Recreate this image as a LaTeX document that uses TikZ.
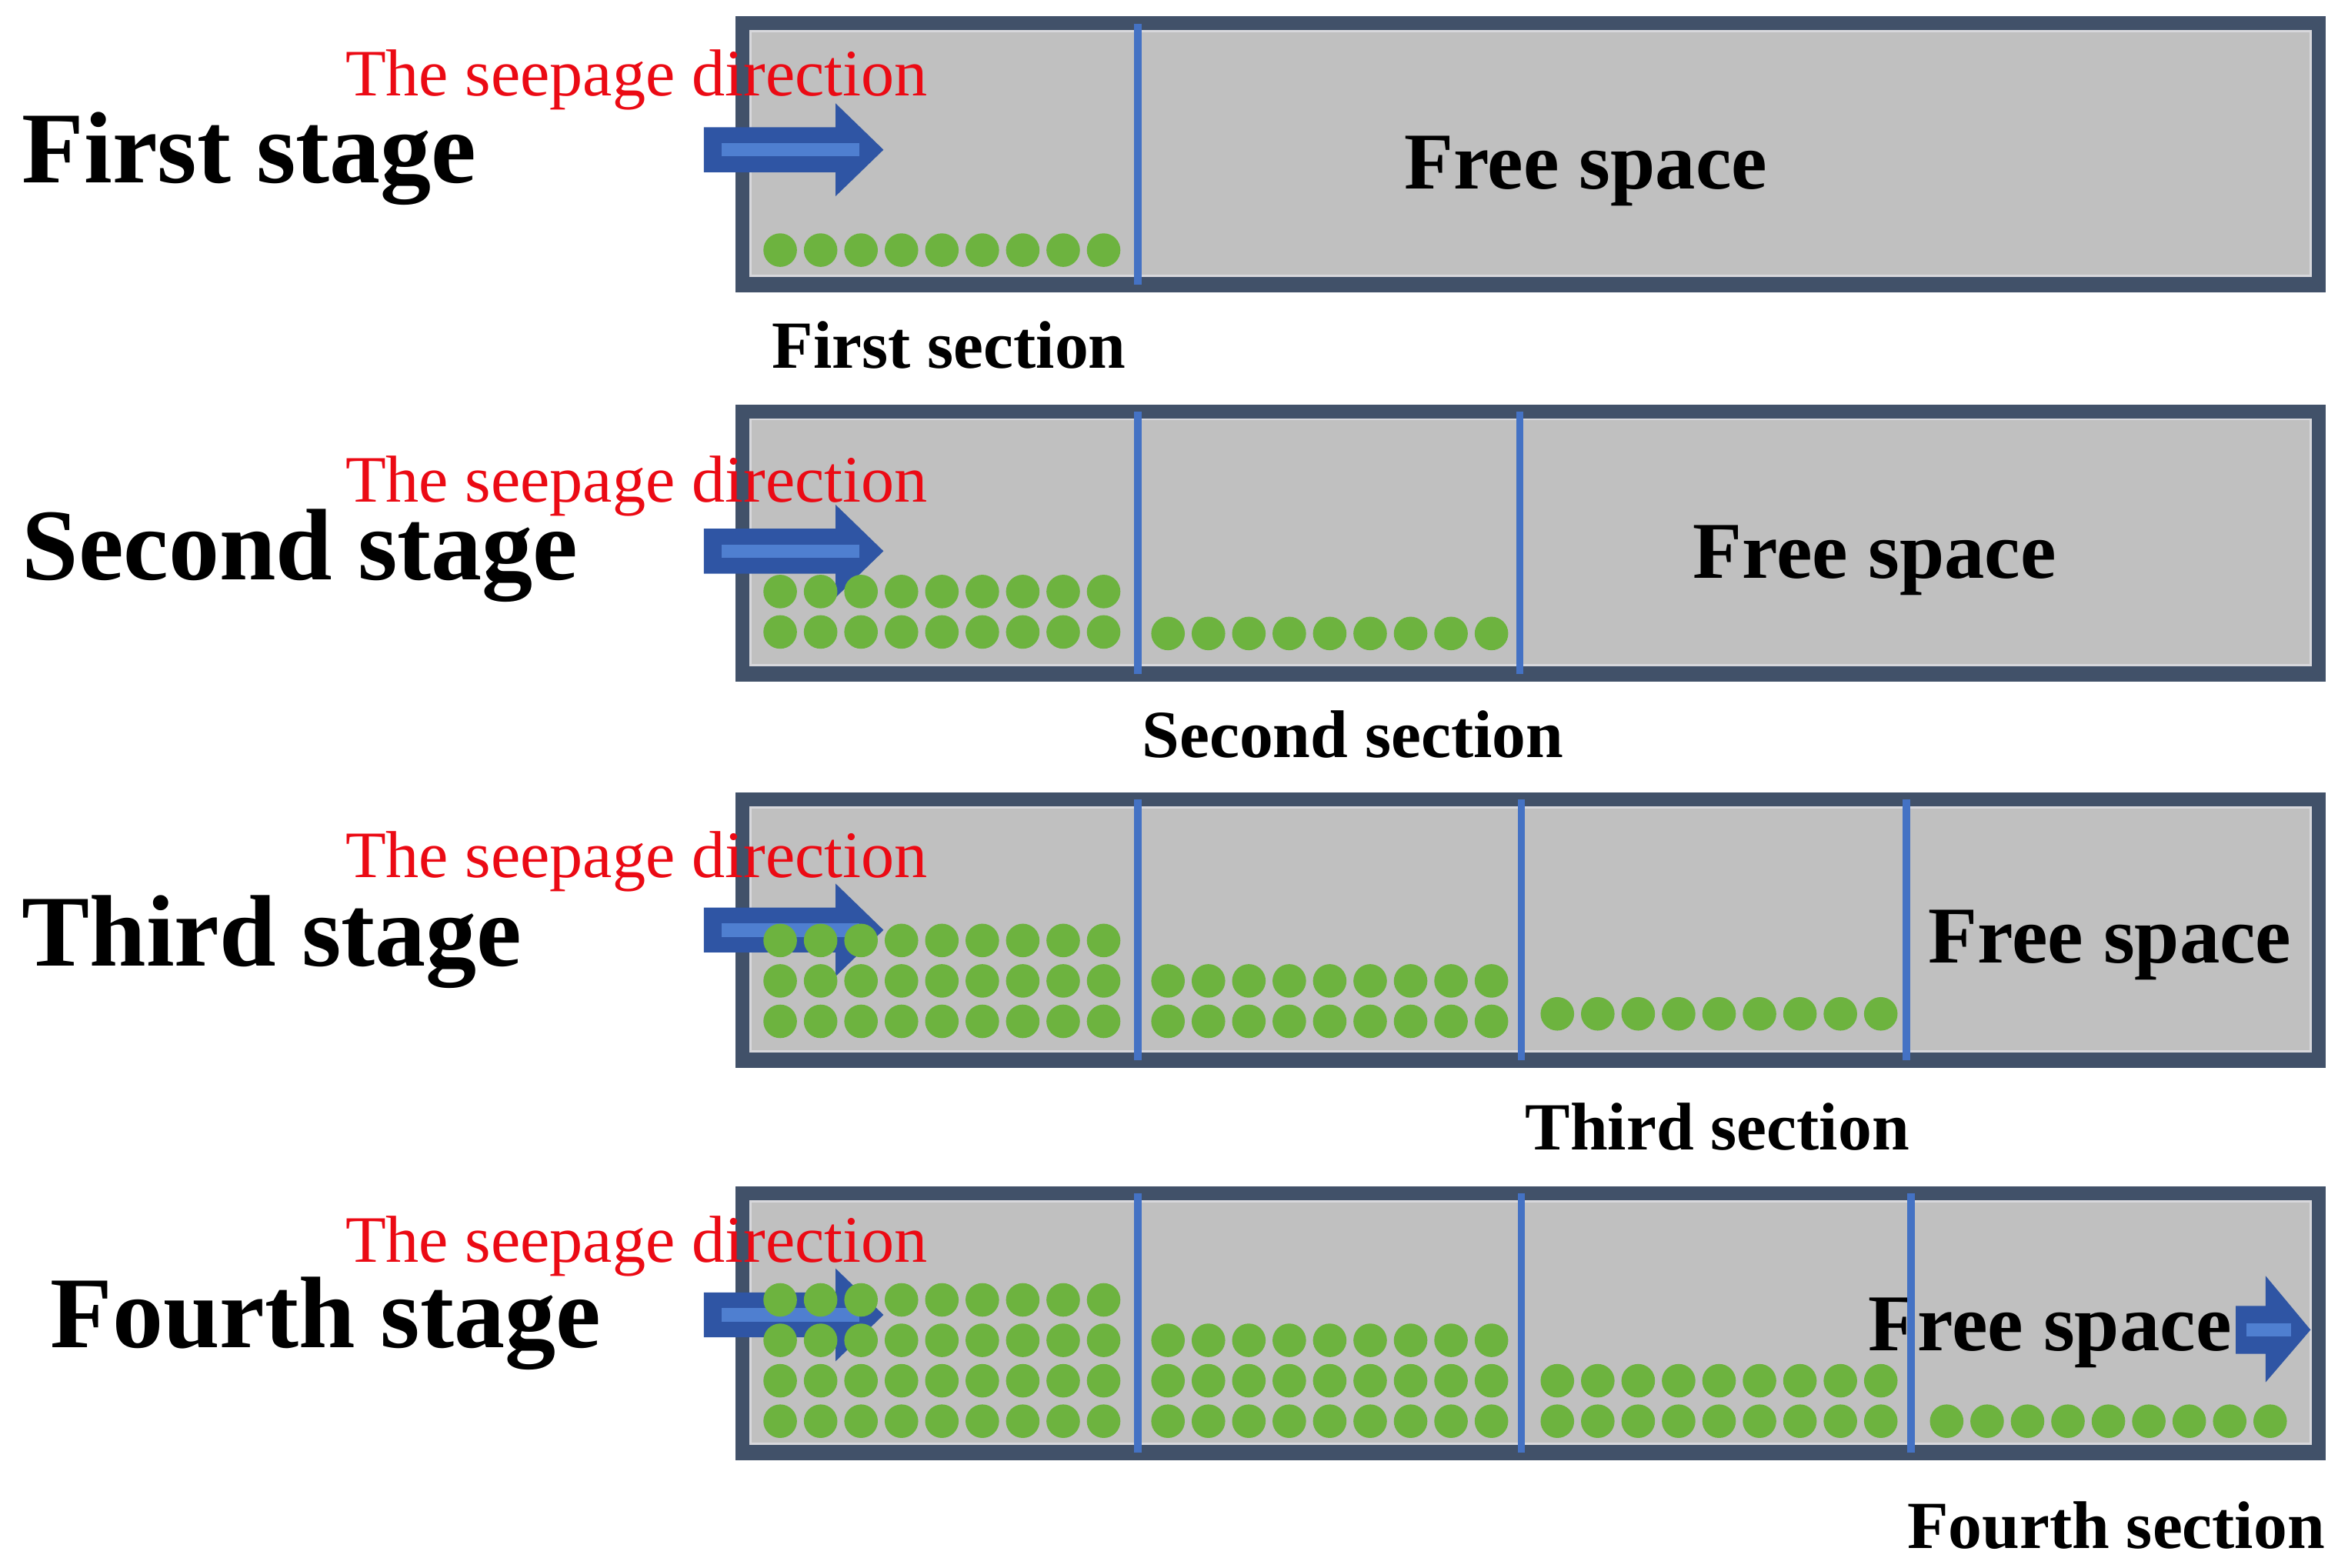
\documentclass[tikz,border=0pt]{standalone}
\usepackage{fontspec}
\setmainfont{Liberation Serif}
\definecolor{frame}{HTML}{415169}
\definecolor{panel}{HTML}{C0C0C0}
\definecolor{panedge}{HTML}{D8D8DC}
\definecolor{divblue}{HTML}{4472C4}
\definecolor{dotgreen}{HTML}{6DB33F}
\definecolor{arrblue}{HTML}{2F55A4}
\definecolor{arrlight}{HTML}{4F7FD0}
\definecolor{seepred}{RGB}{235,10,20}
\begin{document}
\begin{tikzpicture}[x=0.01cm,y=-0.01cm,
  stagelbl/.style={font=\fontsize{19.3}{23}\selectfont\bfseries, anchor=base west, inner sep=0pt},
  seeplbl/.style={text=seepred, font=\fontsize{12.6}{15}\selectfont, anchor=base west, inner sep=0pt},
  freelbl/.style={font=\fontsize{15.3}{18}\selectfont\bfseries, anchor=base west, inner sep=0pt},
  sectlbl/.style={font=\fontsize{12.8}{15}\selectfont\bfseries, anchor=base west, inner sep=0pt},
  divider/.style={draw=divblue, line width=0.05cm},
  bead/.style={fill=dotgreen}
]
\useasboundingbox (0,0) rectangle (1568,1047);
\fill[white] (0,0) rectangle (1568,1047);

% boxes: top, bottom
\foreach \T/\B in {11/195, 270/455, 529/713, 792/975}{
  \fill[frame] (491,\T) rectangle (1553,\B);
  \fill[panel, draw=panedge, line width=0.015cm] (501,\T+10) rectangle (1543,\B-11);
}

% dividers
\draw[divider] (760,16) -- (760,190);
\draw[divider] (760,275) -- (760,450);
\draw[divider] (1015,275) -- (1015,450);
\draw[divider] (760,534) -- (760,708);
\draw[divider] (1016,534) -- (1016,708);
\draw[divider] (1273,534) -- (1273,708);
\draw[divider] (760,797) -- (760,970);
\draw[divider] (1016,797) -- (1016,970);
\draw[divider] (1276,797) -- (1276,970);

% seepage arrows (left)
\foreach \c in {100, 368, 621, 878}{
  \fill[arrblue] (470,\c-15) -- (558,\c-15) -- (558,\c-31) -- (590,\c) -- (558,\c+31) -- (558,\c+15) -- (470,\c+15) -- cycle;
  \fill[arrlight] (482,\c-4.5) rectangle (574,\c+4.5);
}
% outlet arrow (fourth stage)
\fill[arrblue] (1493,872) -- (1513,872) -- (1513,852) -- (1543,888) -- (1513,923) -- (1513,904) -- (1493,904) -- cycle;
\fill[arrlight] (1500,883.5) rectangle (1530,892.5);

% beads
\newcommand\beadrow[2]{\foreach \i in {0,...,8}{\fill[bead] ({#1+27*\i},#2) circle[radius=11.2];}}
% stage 1
\beadrow{521}{167}
% stage 2
\beadrow{521}{395}\beadrow{521}{422}
\beadrow{780}{423}
% stage 3
\beadrow{521}{628}\beadrow{521}{655}\beadrow{521}{682}
\beadrow{780}{655}\beadrow{780}{682}
\beadrow{1040}{677}
% stage 4
\beadrow{521}{868}\beadrow{521}{895}\beadrow{521}{922}\beadrow{521}{949}
\beadrow{780}{895}\beadrow{780}{922}\beadrow{780}{949}
\beadrow{1040}{922}\beadrow{1040}{949}
\beadrow{1300}{949}

% stage labels
\node[stagelbl] (s1) at (14,122) {First stage};
\node[stagelbl] (s2) at (14,387) {Second stage};
\node[stagelbl] (s3) at (14,645) {Third stage};
\node[stagelbl] (s4) at (33,900) {Fourth stage};

% seepage direction labels
\node[seeplbl] (d1) at (230,64) {The seepage direction};
\node[seeplbl] (d2) at (230,335) {The seepage direction};
\node[seeplbl] (d3) at (230,586) {The seepage direction};
\node[seeplbl] (d4) at (230,843) {The seepage direction};

% free space labels
\node[freelbl] (f1) at (937,126) {Free space};
\node[freelbl] (f2) at (1130,386) {Free space};
\node[freelbl] (f3) at (1287,643) {Free space};
\node[freelbl] (f4) at (1247,902) {Free space};
\draw[divider] (1276,850) -- (1276,910);

% section labels
\node[sectlbl] (c1) at (515,246) {First section};
\node[sectlbl] (c2) at (762,506) {Second section};
\node[sectlbl] (c3) at (1018,768) {Third section};
\node[sectlbl] (c4) at (1273,1034) {Fourth section};
\end{tikzpicture}
\end{document}
